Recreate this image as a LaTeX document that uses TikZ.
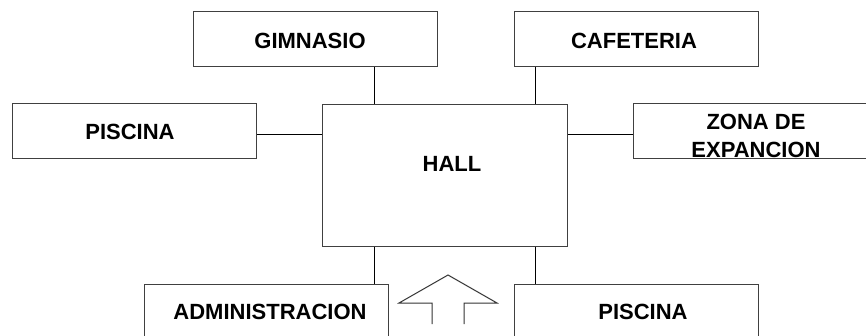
\documentclass[tikz,border=0pt]{standalone}
\usepackage{fontspec}
\setmainfont{Liberation Sans}
\begin{document}
\begin{tikzpicture}[x=1pt,y=-1pt,
  box/.style={draw=black!75, line width=1pt, rectangle, inner sep=0pt, minimum width=244pt, minimum height=55pt},
  lbl/.style={inner sep=0pt, font=\fontsize{22}{28}\selectfont\bfseries, align=center},
  conn/.style={draw=black, line width=1pt},
  arrowline/.style={draw=black!80, line width=1pt, line join=miter}]
\useasboundingbox (0,0) rectangle (866,335);
\clip (0,0) rectangle (866,335);
\fill[white] (0,0) rectangle (866,335);
% boxes
\node[box] (gim) at (315,39) {};
\node[box] (caf) at (636,39) {};
\node[box] (pisl) at (134,130.5) {};
\node[box] (zona) at (755,130.5) {};
\node[box, minimum width=245pt, minimum height=142pt] (hall) at (444.5,175) {};
\node[box] (admin) at (266.5,311.5) {};
\node[box] (pisb) at (636,311.5) {};
% labels
\node[lbl] (tgim) at (310,40.5) {GIMNASIO};
\node[lbl] (tcaf) at (634,40.5) {CAFETERIA};
\node[lbl] (tpisl) at (130,131.5) {PISCINA};
\node[lbl] (thall) at (452,164) {HALL};
\node[lbl] (tzona) at (756,136) {ZONA DE\\EXPANCION};
\node[lbl] (tadmin) at (270,312) {ADMINISTRACION};
\node[lbl] (tpisb) at (643,312) {PISCINA};
% connector positions
\coordinate (cl) at (374,0);
\coordinate (cr) at (535,0);
\coordinate (cm) at (0,134);
\draw[conn] (gim.south -| cl) -- (hall.north -| cl);
\draw[conn] (caf.south -| cr) -- (hall.north -| cr);
\draw[conn] (pisl.east |- cm) -- (hall.west |- cm);
\draw[conn] (zona.west |- cm) -- (hall.east |- cm);
\draw[conn] (hall.south -| cl) -- (admin.north -| cl);
\draw[conn] (hall.south -| cr) -- (pisb.north -| cr);
% entrance arrow
\coordinate (ap) at (448,275);
\draw[arrowline] (432,324) -- (432,303) -- (399,303) -- (ap) -- (497,303) -- (464,303) -- (464,324);
\end{tikzpicture}
\end{document}
